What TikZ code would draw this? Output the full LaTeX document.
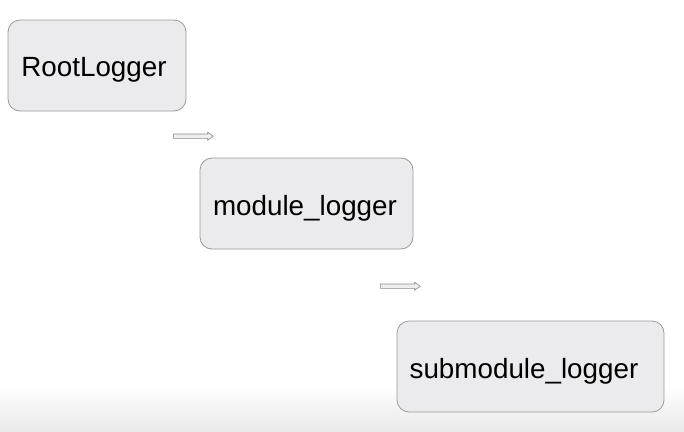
\documentclass[tikz,border=0pt]{standalone}
\usepackage{fontspec}
\setmainfont{Liberation Sans}
\definecolor{boxfill}{HTML}{EBEAEC}
\definecolor{boxline}{HTML}{9A9A9A}
\definecolor{bgbot}{HTML}{E9E9E9}
\definecolor{arrfill}{HTML}{EEEEEE}
\definecolor{arrline}{HTML}{8C8C8C}
\begin{document}
\begin{tikzpicture}[x=1pt,y=-1pt,
  logbox/.style={draw=boxline,fill=boxfill,rounded corners=12pt,line width=0.8pt},
  logtext/.style={font=\fontsize{27.8}{30}\selectfont,text=black},
  blockarrow/.style={draw=arrline,fill=arrfill,line width=0.6pt,line join=miter}]
  \useasboundingbox (0,0) rectangle (684,431);
  \fill[white] (0,0) rectangle (684,431);
  \shade[top color=white,bottom color=bgbot] (0,385) rectangle (684,431);
  \draw[logbox] (8,20) rectangle (186,111);
  \node[logtext] (root) at (94,70) {RootLogger};
  \draw[logbox] (200,158) rectangle (413,249);
  \node[logtext] (mod) at (305,208) {module\_logger};
  \draw[logbox] (397,321) rectangle (664,412);
  \node[logtext] (sub) at (524,371) {submodule\_logger};
  \coordinate (a1) at (173.3,136.2);
  \draw[blockarrow] (a1) ++(0,-2.2) -- ++(34.4,0) -- ++(0,-1.8) -- ++(5.6,4) -- ++(-5.6,4) -- ++(0,-1.8) -- ++(-34.4,0) -- cycle;
  \coordinate (a2) at (380.3,286.2);
  \draw[blockarrow] (a2) ++(0,-2.2) -- ++(34.4,0) -- ++(0,-1.8) -- ++(5.6,4) -- ++(-5.6,4) -- ++(0,-1.8) -- ++(-34.4,0) -- cycle;
\end{tikzpicture}
\end{document}
